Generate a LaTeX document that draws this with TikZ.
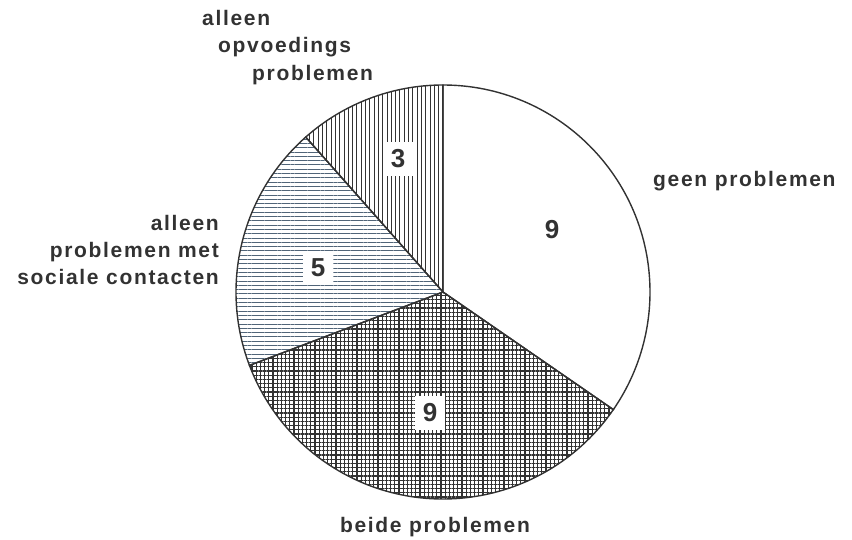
\documentclass[tikz,border=0pt]{standalone}
\usepackage{fontspec}
\usepackage{xcolor}
\usetikzlibrary{patterns.meta}
\setmainfont{Liberation Sans}
\newfontfamily\lblfont[LetterSpace=8]{Liberation Sans}

\definecolor{ink}{RGB}{50,50,50}
\definecolor{hlines}{RGB}{80,100,120}

\tikzset{
  lbl/.style={inner sep=0pt,text=ink,font=\lblfont\bfseries\fontsize{21}{27}\selectfont},
  num/.style={fill=white,inner xsep=8pt,inner ysep=8pt,text=ink,font=\bfseries\fontsize{26}{26}\selectfont},
  slice/.style={draw=ink,line width=1.4pt}
}

\begin{document}
\begin{tikzpicture}[x=1pt,y=1pt]
		\useasboundingbox (0,0) rectangle (852,539);
		\coordinate (c) at (443,247);

		% slices: 9, 9, 5, 3 of 26
		\draw[slice] (c) -- ++(90:207) arc[start angle=90,end angle=-34.62,radius=207] -- cycle;
		\draw[slice,pattern={Hatch[distance=4.2pt,line width=1.1pt]},pattern color=ink] (c) -- ++(-34.62:207) arc[start angle=-34.62,end angle=-159.23,radius=207] -- cycle;
		\draw[slice,pattern={Lines[angle=0,distance=4.3pt,line width=0.9pt]},pattern color=hlines] (c) -- ++(-159.23:207) arc[start angle=-159.23,end angle=-228.46,radius=207] -- cycle;
		\draw[slice,pattern={Lines[angle=90,distance=4.3pt,line width=0.9pt]},pattern color=ink] (c) -- ++(131.54:207) arc[start angle=131.54,end angle=90,radius=207] -- cycle;

		\node[num] (n1) at (552,309) {9};
		\node[num] (n2) at (430,126) {9};
		\node[num] (n3) at (318,271) {5};
		\node[num] (n4) at (398,380) {3};

		\node[lbl,anchor=west] (l1) at (653,358) {geen problemen};
		\node[lbl] (l2) at (435,12) {beide problemen};
		\node[lbl,anchor=east,align=right] (l3) at (219,289) {alleen\\problemen met\\sociale contacten};
		\node[lbl,anchor=west] (l4a) at (202,521) {alleen};
		\node[lbl,anchor=west] (l4b) at (218,492) {opvoedings};
		\node[lbl,anchor=west] (l4c) at (252,464) {problemen};
\end{tikzpicture}
\end{document}
